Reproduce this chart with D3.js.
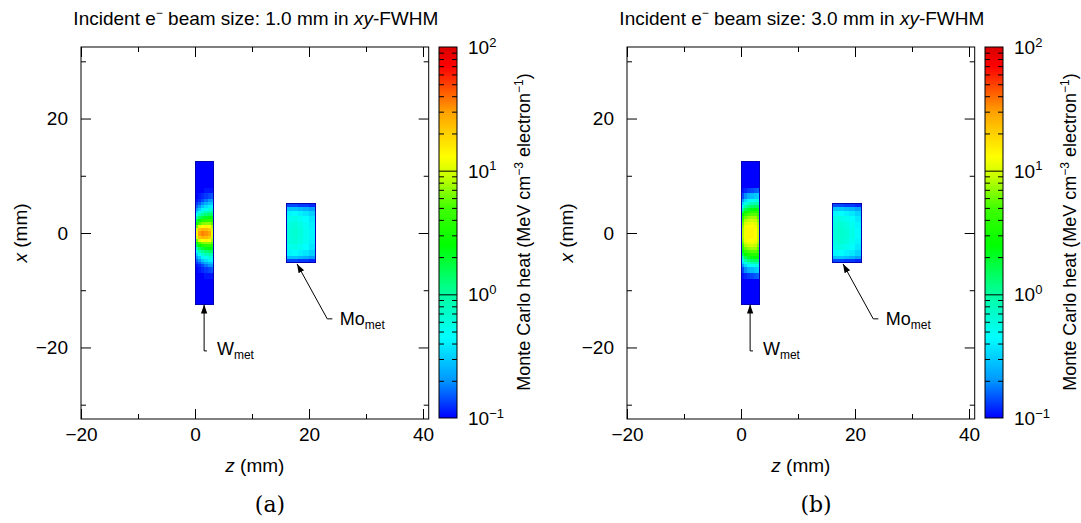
<!DOCTYPE html>
<html>
<head>
<meta charset="utf-8">
<script src="https://cdn.jsdelivr.net/npm/d3@7"></script>
<style>
  body { margin: 0; background: #fff; }
  text { font-family: "Liberation Sans", Arial, sans-serif; fill: #000; }
</style>
</head>
<body>
<svg id="chart" width="1081" height="523"></svg>
<script>
// axis ticks (mm)
const zTicks = [-20, 0, 20, 40];
const zMinor = [-10, 10, 30];
const xTicks = [-20, 0, 20];
const xMinor = [-30, -10, 10, 30];
const cbTicks = [0.1, 1, 10, 100];
const cbLabels = [["10", "\u22121"], ["10", "0"], ["10", "1"], ["10", "2"]];

// panel text
const beamSizes = ["1.0", "3.0"];
const panelTags = ["(a)", "(b)"];

// W slab grid: z column edges and |x| row edges (mm), values in MeV cm^-3 e^-1
const wZEdges = [0, 0.55, 1.1, 1.65, 2.2, 2.75, 3.3];
const wHalfEdges = [0, 0.5, 1, 1.5, 2, 2.5, 3, 3.5, 4, 4.5, 5, 5.5, 6, 7, 8, 12.5];
const wHeatA = [
  [14, 10, 6, 3, 1.6, 0.9, 0.5, 0.32, 0.22, 0.16, 0.13, 0.11, 0.1, 0.1, 0.1],
  [30, 22, 11, 5, 2.6, 1.4, 0.8, 0.48, 0.3, 0.2, 0.15, 0.12, 0.11, 0.1, 0.1],
  [35, 25, 13, 6.5, 3.3, 1.8, 1.05, 0.65, 0.42, 0.28, 0.19, 0.14, 0.12, 0.1, 0.1],
  [32, 24, 14, 7, 3.8, 2.1, 1.25, 0.8, 0.52, 0.35, 0.24, 0.17, 0.13, 0.11, 0.1],
  [28, 21, 13, 7, 4, 2.3, 1.4, 0.9, 0.6, 0.4, 0.28, 0.2, 0.14, 0.11, 0.1],
  [11, 10, 8, 5.5, 3.6, 2.2, 1.4, 0.9, 0.62, 0.42, 0.3, 0.21, 0.15, 0.11, 0.1]
];
const wHeatB = [
  [8, 8, 7, 6, 5, 3.8, 2.6, 1.6, 0.95, 0.55, 0.34, 0.22, 0.14, 0.11, 0.1],
  [12, 12, 11.5, 10, 8, 6, 4, 2.6, 1.6, 0.95, 0.55, 0.33, 0.19, 0.12, 0.1],
  [14, 14, 13, 11, 9, 7, 5, 3.2, 2, 1.2, 0.7, 0.42, 0.24, 0.13, 0.1],
  [14, 14, 13, 11.5, 9.5, 7.5, 5.5, 3.6, 2.3, 1.4, 0.8, 0.48, 0.27, 0.14, 0.1],
  [13, 13, 12, 11, 9, 7.5, 5.5, 3.8, 2.5, 1.5, 0.9, 0.54, 0.3, 0.15, 0.1],
  [9, 9, 8.5, 7.5, 6.5, 5.5, 4.3, 3.2, 2.2, 1.4, 0.9, 0.56, 0.32, 0.16, 0.1]
];

// Mo slab grid
const moZEdges = [16, 17, 18, 19, 20, 21.2];
const moHalfEdges = [0, 1, 2, 3, 4, 4.6, 5.1];
const moHeatA = [
  [0.6, 0.58, 0.52, 0.42, 0.28, 0.14],
  [0.65, 0.62, 0.55, 0.44, 0.28, 0.14],
  [0.6, 0.57, 0.5, 0.4, 0.26, 0.13],
  [0.52, 0.5, 0.45, 0.37, 0.24, 0.13],
  [0.42, 0.4, 0.37, 0.31, 0.21, 0.12]
];
const moHeatB = [
  [0.62, 0.6, 0.54, 0.43, 0.28, 0.14],
  [0.68, 0.65, 0.57, 0.45, 0.29, 0.14],
  [0.63, 0.6, 0.52, 0.41, 0.27, 0.13],
  [0.55, 0.52, 0.47, 0.38, 0.25, 0.13],
  [0.44, 0.42, 0.38, 0.32, 0.22, 0.12]
];

// colour map stops (value -> colour)
const cmapValues = [0.1, 0.2, 0.45, 1.0, 2.5, 5, 9, 13, 20, 30, 50, 70, 100];
const cmapColors = ["#0000ff", "#0096ff", "#00ffff", "#00ffa0", "#00ff00", "#40ff00",
  "#c8ff00", "#ffff00", "#ffd000", "#ffa000", "#ff4000", "#ff0000", "#d80000"];

// annotation leader lines, (z, x) in mm
const wLeader = [[1.6, -12.5], [1.6, -20.6], [2.1, -20.6]];
const wLabelAt = [3.85, -21.3];
const moLeader = [[17.9, -5.4], [23.2, -15.0], [24.1, -15.0]];
const moLabelAt = [25.4, -16.1];

const panelShift = [0, 546];
const heatW = [wHeatA, wHeatB];
const heatMo = [moHeatA, moHeatB];

const svg = d3.select("#chart");

const colour = d3.scaleLinear()
  .domain(cmapValues.map(v => Math.log10(v)))
  .range(cmapColors)
  .clamp(true);
const heatColour = v => colour(Math.log10(v));

svg.append("defs").append("marker")
  .attr("id", "arrow")
  .attr("viewBox", "0 0 10 10")
  .attr("refX", 10).attr("refY", 5)
  .attr("markerWidth", 9).attr("markerHeight", 9)
  .attr("markerUnits", "userSpaceOnUse")
  .attr("orient", "auto")
  .append("path").attr("d", "M0,1.5 L10,5 L0,8.5 Z").attr("fill", "#000");

function drawSlab(g, x, y, zEdges, halfEdges, grid) {
  grid.forEach((col, c) => {
    col.forEach((v, r) => {
      [1, -1].forEach(s => {
        const y0 = y(s * halfEdges[r]), y1 = y(s * halfEdges[r + 1]);
        g.append("rect")
          .attr("x", x(zEdges[c]))
          .attr("width", x(zEdges[c + 1]) - x(zEdges[c]) + 0.5)
          .attr("y", Math.min(y0, y1))
          .attr("height", Math.abs(y1 - y0) + 0.5)
          .attr("fill", heatColour(v));
      });
    });
  });
  const top = halfEdges[halfEdges.length - 1];
  g.append("rect")
    .attr("x", x(zEdges[0])).attr("y", y(top))
    .attr("width", x(zEdges[zEdges.length - 1]) - x(zEdges[0]))
    .attr("height", y(-top) - y(top))
    .attr("fill", "none").attr("stroke", "#0000b4").attr("stroke-width", 1);
}

function drawPanel(p) {
  const ox = panelShift[p];
  const g = svg.append("g").attr("transform", `translate(${ox},0)`);
  const left = 81, right = 428.7, top = 47, bottom = 419;
  const x = d3.scaleLinear().domain([-20, 41]).range([left, right]);
  const y = d3.scaleLinear().domain([-32.5, 32.5]).range([bottom, top]);

  // heat maps
  const heat = g.append("g").attr("shape-rendering", "crispEdges");
  drawSlab(heat, x, y, wZEdges, wHalfEdges, heatW[p]);
  drawSlab(heat, x, y, moZEdges, moHalfEdges, heatMo[p]);

  // axes, ticks pointing inward on all four sides
  const addAxis = (axis, tr, vals, size, pad) => {
    const a = g.append("g").attr("transform", tr)
      .call(axis.tickValues(vals).tickSizeInner(-size).tickSizeOuter(0)
        .tickPadding(pad || 0)
        .tickFormat(pad ? d3.format("d") : ""));
    a.select(".domain").remove();
    a.selectAll("text").style("font-size", "19px")
      .style("font-family", "Liberation Sans, Arial, sans-serif");
    return a;
  };
  addAxis(d3.axisBottom(x), `translate(0,${bottom})`, zTicks, 10, 9);
  addAxis(d3.axisBottom(x), `translate(0,${bottom})`, zMinor, 5);
  addAxis(d3.axisTop(x), `translate(0,${top})`, zTicks, 10);
  addAxis(d3.axisTop(x), `translate(0,${top})`, zMinor, 5);
  addAxis(d3.axisLeft(y), `translate(${left},0)`, xTicks, 10, 13);
  addAxis(d3.axisLeft(y), `translate(${left},0)`, xMinor, 5);
  addAxis(d3.axisRight(y), `translate(${right},0)`, xTicks, 10);
  addAxis(d3.axisRight(y), `translate(${right},0)`, xMinor, 5);

  g.append("rect")
    .attr("x", left).attr("y", top)
    .attr("width", right - left).attr("height", bottom - top)
    .attr("fill", "none").attr("stroke", "#000").attr("stroke-width", 1);

  // axis titles
  const zl = g.append("text").attr("x", (left + right) / 2).attr("y", 472)
    .attr("text-anchor", "middle").style("font-size", "19px");
  zl.append("tspan").attr("font-style", "italic").text("z");
  zl.append("tspan").text(" (mm)");

  const xl = g.append("text").attr("transform", `translate(27,${y(0)}) rotate(-90)`)
    .attr("text-anchor", "middle").style("font-size", "19px");
  xl.append("tspan").attr("font-style", "italic").text("x");
  xl.append("tspan").text(" (mm)");

  // title
  const t = g.append("text").attr("x", (left + right) / 2 + 1).attr("y", 25)
    .attr("text-anchor", "middle").style("font-size", "19px");
  t.append("tspan").text("Incident e");
  t.append("tspan").attr("dy", -8).style("font-size", "12px").text("\u2212");
  t.append("tspan").attr("dy", 8).text(` beam size: ${beamSizes[p]} mm in `);
  t.append("tspan").attr("font-style", "italic").text("xy");
  t.append("tspan").text("-FWHM");

  // annotations
  const line = d3.line().x(d => x(d[0])).y(d => y(d[1]));
  [[wLeader, wLabelAt, "W"], [moLeader, moLabelAt, "Mo"]].forEach(([pts, at, name]) => {
    g.append("path").attr("d", line(pts.slice().reverse()))
      .attr("fill", "none").attr("stroke", "#000").attr("stroke-width", 1)
      .attr("marker-end", "url(#arrow)");
    const lt = g.append("text").attr("x", x(at[0])).attr("y", y(at[1]))
      .style("font-size", "18px");
    lt.append("tspan").text(name);
    lt.append("tspan").attr("dy", 4).style("font-size", "12px").text("met");
  });

  // colour bar
  const cbL = 439, cbR = 457;
  const cy = d3.scaleLog().domain([0.1, 100]).range([418, 47]);
  const gradId = "cbgrad" + p;
  const grad = svg.select("defs").append("linearGradient")
    .attr("id", gradId).attr("x1", 0).attr("y1", 1).attr("x2", 0).attr("y2", 0);
  cmapValues.forEach((v, i) => {
    grad.append("stop")
      .attr("offset", (418 - cy(v)) / (418 - 47))
      .attr("stop-color", cmapColors[i]);
  });
  g.append("rect").attr("x", cbL).attr("y", 47).attr("width", cbR - cbL).attr("height", 371)
    .attr("fill", `url(#${gradId})`).attr("stroke", "#000").attr("stroke-width", 1);

  const cbMinor = [];
  [0.1, 1, 10].forEach(d => d3.range(2, 10).forEach(m => cbMinor.push(d * m)));
  const cbMajor = cbTicks.slice(1, -1);
  [[cbMinor, 5], [cbMajor, 9]].forEach(([vals, len]) => {
    g.append("g").attr("transform", `translate(${cbL},0)`)
      .call(d3.axisRight(cy).tickValues(vals).tickSizeInner(len).tickSizeOuter(0).tickFormat(""))
      .select(".domain").remove();
    g.append("g").attr("transform", `translate(${cbR},0)`)
      .call(d3.axisLeft(cy).tickValues(vals).tickSizeInner(len).tickSizeOuter(0).tickFormat(""))
      .select(".domain").remove();
  });

  cbTicks.forEach((v, i) => {
    const tt = g.append("text").attr("x", 468).attr("y", cy(v)).attr("dy", "0.36em")
      .style("font-size", "19px");
    tt.append("tspan").text(cbLabels[i][0]);
    tt.append("tspan").attr("dy", "-0.55em").style("font-size", "13px").text(cbLabels[i][1]);
  });

  const cl = g.append("text").attr("transform", `translate(530,232) rotate(-90)`)
    .attr("text-anchor", "middle").style("font-size", "18px");
  cl.append("tspan").text("Monte Carlo heat (MeV cm");
  cl.append("tspan").attr("dy", -7).style("font-size", "12px").text("\u22123");
  cl.append("tspan").attr("dy", 7).text(" electron");
  cl.append("tspan").attr("dy", -7).style("font-size", "12px").text("\u22121");
  cl.append("tspan").attr("dy", 7).text(")");

  // panel tag
  g.append("text").attr("x", 270).attr("y", 512).attr("text-anchor", "middle")
    .style("font-family", "DejaVu Serif, serif").style("font-size", "22px")
    .text(panelTags[p]);
}

[0, 1].forEach(drawPanel);
</script>
</body>
</html>
